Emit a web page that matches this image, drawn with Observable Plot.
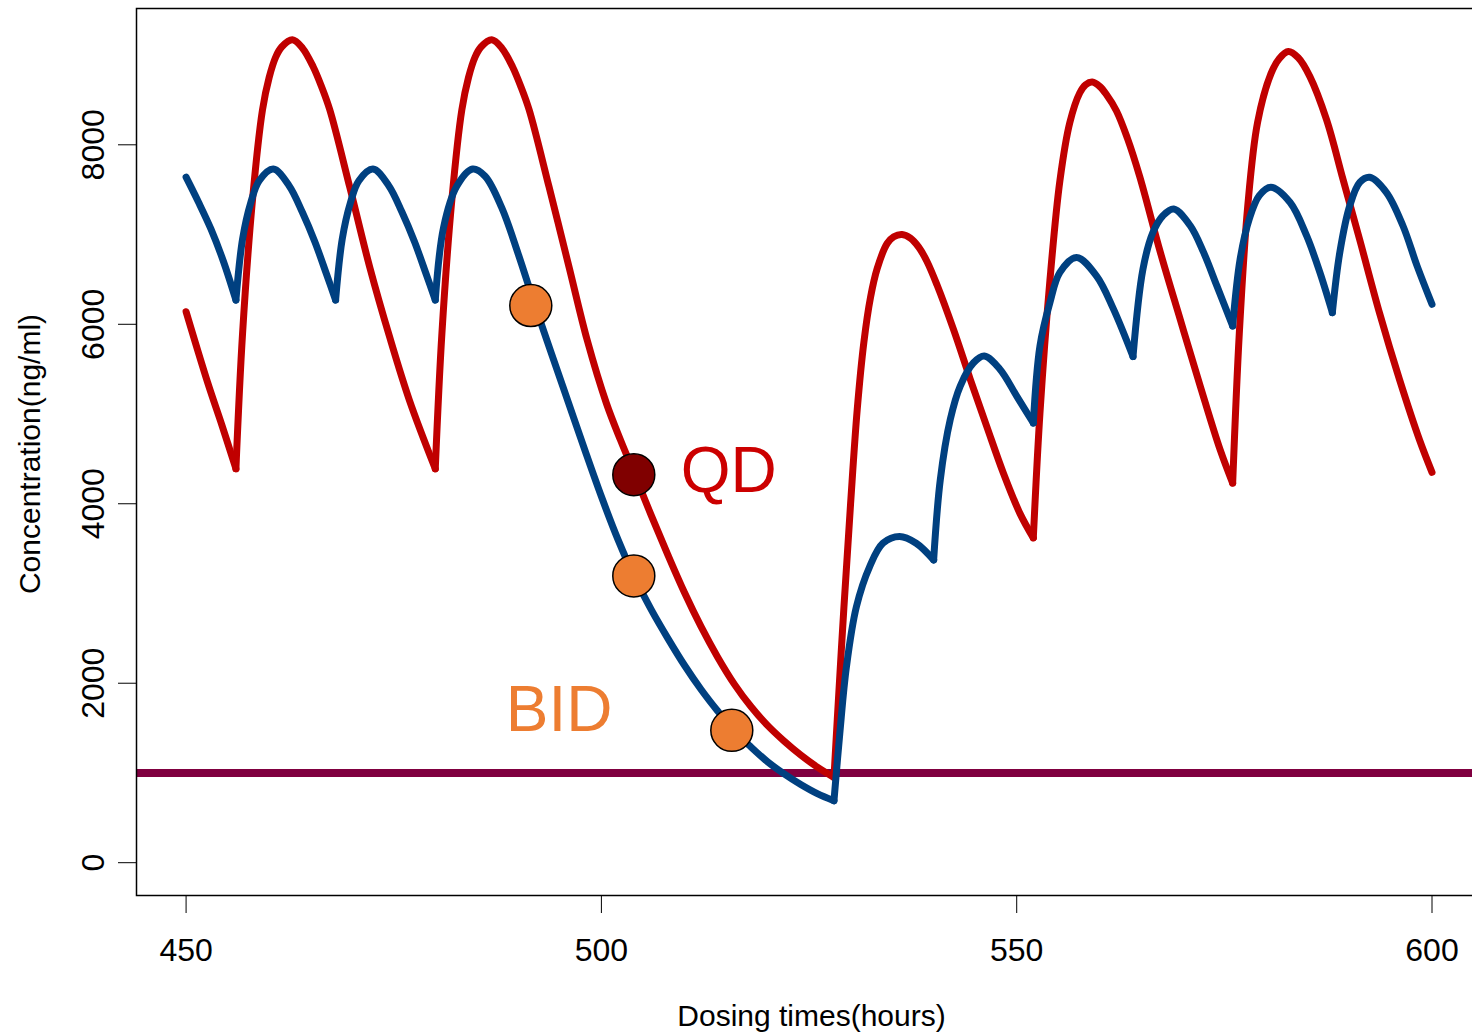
<!DOCTYPE html>
<html>
<head>
<meta charset="utf-8">
<script src="https://cdn.jsdelivr.net/npm/d3@7"></script>
<script src="https://cdn.jsdelivr.net/npm/@observablehq/plot@0.6"></script>
<style>
html, body { margin: 0; padding: 0; background: #fff; overflow: hidden; }
#chart { width: 1472px; height: 1032px; }
</style>
</head>
<body>
<div id="chart"></div>
<script>
// ---- Data ----
// QD regimen (red): dose times and concentration profile
const qdDoses = [456, 480, 528, 552, 576];
const qdTime = [450, 452.6, 454.3, 456,
  456.8, 458.0, 459.2, 460.0, 460.8, 461.5, 462.8, 464.0, 465.3, 466.3, 467.3, 469.7, 472.1, 474.5, 476.9, 480,
  480.8, 482.0, 483.2, 484.0, 484.8, 485.5, 486.8, 488.0, 489.3, 490.3, 491.3, 493.7, 496.1, 498.3, 500.6, 502.3,
  504, 506, 508, 510, 512, 514, 516, 518, 520, 522, 524, 526, 528,
  528.4, 529.2, 530.0, 530.8, 531.6, 532.4, 533.2, 534.4, 535.2, 536.2, 537.2, 538.2, 539.2, 540.4, 542.4, 544.4, 546.4, 548.4, 550.4, 552,
  552.8, 554.0, 555.2, 556.4, 557.6, 558.3, 559.1, 560.0, 560.8, 562.0, 563.3, 564.8, 567.3, 569.7, 572.1, 574.5, 576,
  576.8, 577.8, 579.0, 580.6, 581.6, 582.7, 583.9, 585.3, 587.3, 589.3, 591.3, 593.7, 596.1, 598.5, 600];
const qdConc = [6140, 5350, 4880, 4390,
  5900, 7390, 8390, 8750, 8980, 9090, 9170, 9080, 8870, 8650, 8390, 7530, 6640, 5860, 5150, 4390,
  5900, 7390, 8390, 8750, 8980, 9090, 9170, 9080, 8870, 8650, 8390, 7530, 6640, 5820, 5120, 4710,
  4330, 3870, 3430, 3010, 2630, 2290, 1990, 1740, 1530, 1355, 1200, 1065, 950,
  1600, 2850, 4000, 5050, 5800, 6300, 6620, 6900, 6975, 7000, 6960, 6860, 6700, 6440, 5940, 5390, 4860, 4340, 3890, 3620,
  5010, 6490, 7600, 8250, 8580, 8670, 8700, 8650, 8560, 8380, 8080, 7650, 6800, 6050, 5310, 4600, 4230,
  5900, 7300, 8250, 8790, 8960, 9040, 8970, 8760, 8280, 7610, 6940, 6120, 5380, 4710, 4350];

// BID regimen (blue)
const bidDoses = [456, 468, 480, 528, 540, 552, 564, 576, 588];
const bidTime = [450, 451.5, 453.0, 454.5, 456,
  456.8, 457.8, 458.8, 460.5, 462.4, 464.0, 465.5, 466.9, 468,
  468.8, 469.8, 470.8, 472.5, 474.4, 476.0, 477.5, 478.9, 480,
  481.0, 482.6, 484.5, 486, 488, 490, 492, 494, 496, 498, 500, 502, 504, 506, 508, 510, 512, 514, 516, 518, 520, 522, 524, 526, 528,
  528.7, 529.5, 530.7, 532.3, 533.9, 535.9, 537.9, 540,
  540.8, 542.0, 543.2, 544.8, 546.1, 548.0, 550.0, 552,
  552.8, 554.0, 555.2, 557.2, 559.6, 561.6, 564,
  565.2, 566.4, 567.6, 568.9, 570.9, 572.5, 574.1, 576,
  576.9, 578.0, 579.2, 580.6, 582.9, 584.9, 586.5, 588,
  588.9, 590.1, 591.3, 592.5, 594.5, 596.5, 598.2, 600];
const bidConc = [7640, 7360, 7060, 6700, 6270,
  6950, 7360, 7600, 7730, 7545, 7248, 6920, 6560, 6270,
  6950, 7360, 7600, 7730, 7545, 7248, 6920, 6560, 6270,
  7080, 7540, 7730, 7650, 7300, 6780, 6210, 5670, 5135, 4600, 4080, 3600, 3180, 2820, 2500, 2200, 1930, 1690, 1470, 1290, 1125, 990, 872, 770, 690,
  1438, 2182, 2852, 3300, 3560, 3635, 3560, 3374,
  4268, 4938, 5311, 5571, 5646, 5497, 5199, 4900,
  5758, 6242, 6578, 6745, 6540, 6180, 5640,
  6615, 7024, 7210, 7285, 7098, 6801, 6428, 5981,
  6726, 7173, 7434, 7527, 7359, 6987, 6578, 6130,
  6801, 7322, 7582, 7639, 7471, 7098, 6651, 6223];

// Missed-dose markers
const bidMissedTime = [491.5, 503.9, 515.7];
const bidMissedConc = [6209, 3196, 1475];
const qdMissedTime = [503.9];
const qdMissedConc = [4324];

// Threshold concentration
const threshold = [1000];

// Ticks
const xTicks = [450, 500, 550, 600];
const yTicks = [0, 2000, 4000, 6000, 8000];

// ---- Build line tables, broken at each dose so the troughs stay sharp ----
function segmentRows(times, concs, doses) {
  const rows = [];
  times.forEach((t, i) => {
    const k = doses.filter(d => d < t).length;
    rows.push({t, c: concs[i], seg: k});
    if (doses.includes(t)) rows.push({t, c: concs[i], seg: k + 1});
  });
  return rows;
}
const qdRows = segmentRows(qdTime, qdConc, qdDoses);
const bidRows = segmentRows(bidTime, bidConc, bidDoses);
const bidMissed = bidMissedTime.map((t, i) => ({t, c: bidMissedConc[i]}));
const qdMissed = qdMissedTime.map((t, i) => ({t, c: qdMissedConc[i]}));

const FONT = "'Liberation Sans', Arial, Helvetica, sans-serif";

const chart = Plot.plot({
  width: 1472,
  height: 1032,
  marginLeft: 136,
  marginRight: -14,
  marginTop: 8,
  marginBottom: 137,
  x: {domain: [444.03, 606.56]},
  y: {domain: [-365.5, 9519]},
  style: {fontFamily: FONT, background: "white", overflow: "hidden", color: "black"},
  marks: [
    Plot.ruleY(threshold, {stroke: "#800040", strokeWidth: 8}),
    Plot.line(qdRows, {x: "t", y: "c", z: "seg", stroke: "#C00000", strokeWidth: 7,
      curve: "catmull-rom", strokeLinecap: "round", strokeLinejoin: "round"}),
    Plot.line(bidRows, {x: "t", y: "c", z: "seg", stroke: "#004080", strokeWidth: 7,
      curve: "catmull-rom", strokeLinecap: "round", strokeLinejoin: "round"}),
    Plot.dot(bidMissed, {x: "t", y: "c", r: 21, fill: "#ED7D31", stroke: "black", strokeWidth: 1.5}),
    Plot.dot(qdMissed, {x: "t", y: "c", r: 21, fill: "#800000", stroke: "black", strokeWidth: 1.5}),
    Plot.text(["QD"], {x: [509.55], y: [4136], text: d => d, fill: "#CC0000", fontSize: 64,
      textAnchor: "start", lineAnchor: "bottom", fontFamily: FONT}),
    Plot.text(["BID"], {x: [488.5], y: [1465], text: d => d, fill: "#ED7D31", fontSize: 64,
      textAnchor: "start", lineAnchor: "bottom", fontFamily: FONT}),
    Plot.frame({stroke: "black", strokeWidth: 1.5}),
    Plot.axisX({ticks: xTicks, tickSize: 18, tickPadding: 25, fontSize: 32, label: null,
      tickFormat: d => String(d), stroke: "black", fill: "black"}),
    Plot.axisY({ticks: yTicks, tickSize: 18, tickFormat: () => "", label: null, stroke: "black"}),
    Plot.text(yTicks, {y: d => d, text: d => String(d), frameAnchor: "left", dx: -33, rotate: -90,
      textAnchor: "middle", lineAnchor: "bottom", fontSize: 32, fill: "black", fontFamily: FONT}),
    Plot.text(["Dosing times(hours)"], {frameAnchor: "bottom", dy: 130, text: d => d,
      textAnchor: "middle", lineAnchor: "bottom", fontSize: 30, fill: "black", fontFamily: FONT}),
    Plot.text(["Concentration(ng/ml)"], {frameAnchor: "left", dx: -97, dy: 2, rotate: -90, text: d => d,
      textAnchor: "middle", lineAnchor: "bottom", fontSize: 30, fill: "black", fontFamily: FONT})
  ]
});
document.getElementById("chart").appendChild(chart);
</script>
</body>
</html>
